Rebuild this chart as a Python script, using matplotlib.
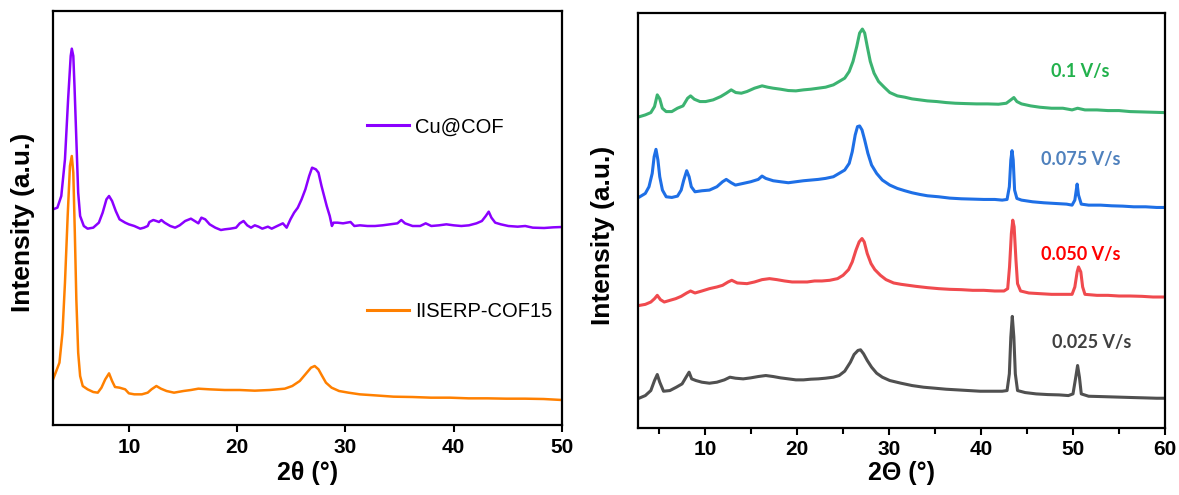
import matplotlib
matplotlib.use("Agg")
import matplotlib.pyplot as plt
from matplotlib.lines import Line2D

plt.rcParams['font.family'] = ['Liberation Sans', 'DejaVu Sans']

# ---------------- Left panel data (2theta, intensity a.u.) ----------------
cu_x = [3.0, 3.4, 3.76, 4.1, 4.39, 4.63, 4.73, 4.87, 4.98, 5.15, 5.32, 5.5, 5.84, 6.19, 6.71,
        7.23, 7.58, 7.93, 8.17, 8.45, 8.79, 9.14, 9.66, 10.0, 10.5, 11.05, 11.4, 11.74, 11.9,
        12.26, 12.54, 12.78, 13.0, 13.3, 13.82, 14.27, 14.69, 15.2, 15.73, 16.08, 16.42, 16.7,
        17.05, 17.46, 17.98, 18.5, 18.85, 19.37, 19.9, 20.24, 20.59, 20.93, 21.28, 21.63, 21.97,
        22.32, 22.84, 23.19, 23.7, 24.22, 24.57, 24.92, 25.26, 25.6, 25.95, 26.3, 26.65, 26.92,
        27.27, 27.51, 27.79, 28.03, 28.27, 28.55, 28.75, 28.9, 29.26, 29.78, 30.47, 30.82, 31.34,
        32.03, 32.73, 33.42, 34.11, 34.8, 35.16, 35.5, 36.2, 36.9, 37.41, 37.93, 38.63, 39.32,
        40.0, 40.7, 41.4, 42.1, 42.6, 42.96, 43.23, 43.48, 43.83, 44.35, 45.04, 45.9, 46.6,
        47.3, 48.34, 49.2, 50.0]
cu_y = [647, 652, 687, 797, 977, 1107, 1129, 1107, 1017, 857, 697, 627, 597, 589, 592,
        607, 637, 677, 687, 672, 642, 617, 607, 602, 597, 589, 592, 597, 609,
        615, 612, 609, 615, 607, 597, 592, 599, 612, 619, 612, 605, 622,
        617, 602, 592, 585, 587, 589, 592, 605, 612, 599, 592, 599, 595,
        589, 595, 589, 597, 605, 592, 617, 637, 652, 677, 707, 747, 772,
        767, 757, 717, 687, 657, 627, 597, 607, 607, 605, 609, 597, 599,
        597, 597, 599, 602, 605, 615, 605, 597, 597, 605, 597, 599, 602,
        599, 597, 599, 605, 612, 627, 640, 622, 607, 602, 597, 595, 597,
        592, 591, 593, 594]

cof_x = [3.0, 3.24, 3.59, 3.87, 4.1, 4.35, 4.56, 4.73, 4.87, 5.01, 5.15, 5.32, 5.5, 5.74,
         6.19, 6.71, 7.13, 7.47, 7.82, 8.17, 8.45, 8.72, 9.14, 9.66, 10.0, 10.5, 11.2, 11.74,
         12.09, 12.54, 12.96, 13.48, 14.17, 15.04, 15.73, 16.42, 17.46, 18.85, 20.24, 21.63,
         23.01, 24.4, 25.09, 25.78, 26.3, 26.82, 27.16, 27.51, 27.85, 28.2, 28.72, 29.41,
         30.28, 31.32, 32.7, 34.44, 36.17, 37.9, 39.64, 41.37, 43.1, 44.84, 46.57, 48.3, 50.0]
cof_y = [137, 157, 187, 277, 427, 627, 777, 807, 757, 577, 377, 217, 147, 117,
         107, 99, 97, 112, 137, 155, 132, 114, 112, 107, 95, 92, 92, 97,
         107, 117, 109, 102, 97, 102, 105, 109, 107, 105, 105, 103,
         105, 109, 117, 132, 152, 172, 177, 167, 147, 127, 112, 102,
         97, 92, 89, 85, 84, 82, 82, 80, 80, 79, 79, 78, 75]

left_labels = ["Cu@COF", "IISERP-COF15"]
left_colors = ["#8B00FF", "#FF8000"]

# ---------------- Right panel data ----------------
g_x = [2.9, 3.5, 4.1, 4.5, 4.8, 5.07, 5.35, 5.76, 6.38, 6.99, 7.6, 8.1, 8.42, 8.83, 9.44, 10.06,
       10.87, 11.7, 12.3, 12.84, 13.33, 13.94, 14.55, 15.37, 16.2, 16.8, 17.4, 18.2, 19.05, 19.87,
       20.7, 21.5, 22.3, 23.1, 23.95, 24.57, 25.18, 25.67, 26.08, 26.49, 26.8, 27.1, 27.35, 27.63,
       27.96, 28.37, 28.86, 29.47, 30.08, 30.9, 31.72, 32.5, 33.35, 34.17, 35.2, 36.2, 37.2, 38.26,
       39.5, 40.7, 41.9, 42.75, 43.24, 43.57, 43.9, 44.4, 45.4, 46.4, 47.66, 48.9, 49.9, 50.5,
       51.3, 52.6, 53.8, 55.0, 56.2, 57.5, 58.7, 59.9]
g_y = [932, 937, 944, 962, 997, 985, 957, 947, 947, 957, 964, 987, 994, 984, 977, 977,
       982, 992, 1002, 1012, 1004, 1002, 1007, 1017, 1024, 1020, 1017, 1014, 1010, 1009,
       1012, 1014, 1017, 1020, 1027, 1037, 1047, 1067, 1097, 1142, 1182, 1194, 1182, 1142,
       1097, 1062, 1037, 1020, 1004, 994, 990, 985, 982, 979, 977, 974, 972, 971,
       970, 970, 969, 972, 982, 989, 977, 970, 964, 960, 957, 957, 952, 957,
       952, 952, 950, 950, 947, 946, 945, 944]

b_x = [2.9, 3.5, 3.9, 4.25, 4.46, 4.66, 4.87, 5.07, 5.36, 5.77, 6.38, 7.0, 7.4, 7.68, 8.0, 8.26,
       8.5, 8.9, 9.65, 10.47, 11.28, 11.9, 12.3, 12.84, 13.3, 14.14, 14.96, 15.78, 16.19, 16.6,
       17.4, 18.2, 19.05, 19.87, 20.7, 21.5, 22.3, 23.1, 23.95, 24.57, 25.18, 25.67, 26.0, 26.32,
       26.57, 26.8, 27.06, 27.35, 27.7, 28.1, 28.65, 29.27, 30.08, 30.9, 31.72, 32.5, 33.35,
       34.17, 35.4, 36.6, 37.85, 39.1, 40.3, 41.5, 42.3, 42.83, 43.08, 43.24, 43.37, 43.5,
       43.65, 43.9, 44.4, 45.6, 46.84, 48.06, 49.3, 49.9, 50.2, 50.45, 50.6, 50.9, 51.7, 53.0,
       54.2, 55.4, 56.6, 57.9, 59.1, 59.9]
b_y = [692, 702, 722, 762, 812, 834, 802, 752, 712, 692, 690, 694, 712, 742, 770, 752,
       722, 707, 710, 712, 722, 737, 744, 734, 727, 732, 737, 744, 754, 747,
       740, 737, 734, 737, 740, 742, 744, 747, 752, 762, 772, 792, 827, 877,
       902, 904, 892, 862, 822, 787, 762, 742, 727, 717, 710, 704, 699,
       695, 692, 688, 686, 685, 684, 684, 682, 684, 722, 802, 830, 802,
       712, 687, 682, 677, 674, 672, 670, 667, 682, 730, 697, 670, 667, 667,
       665, 664, 662, 662, 660, 660]

r_x = [2.9, 3.5, 4.1, 4.5, 4.8, 5.15, 5.56, 6.17, 6.8, 7.4, 8.0, 8.42, 8.9, 9.65, 10.47, 11.28,
       11.9, 12.5, 12.9, 13.5, 14.55, 15.37, 16.19, 17.0, 17.8, 18.64, 19.46, 20.3, 21.1, 21.9,
       22.7, 23.55, 24.4, 25.0, 25.6, 26.0, 26.4, 26.75, 27.06, 27.3, 27.63, 28.04, 28.45, 29.06,
       29.67, 30.5, 31.3, 32.1, 32.9, 34.17, 35.4, 36.6, 37.85, 39.1, 40.3, 41.5, 42.5, 42.9,
       43.1, 43.3, 43.45, 43.6, 43.8, 43.97, 44.3, 45.2, 46.4, 47.66, 48.9, 49.9, 50.2, 50.45,
       50.6, 50.85, 51.05, 51.3, 52.6, 53.8, 55.0, 56.2, 57.5, 58.7, 59.9]
r_y = [367, 370, 377, 387, 397, 384, 377, 382, 387, 394, 404, 410, 404, 410, 417, 422,
       427, 437, 442, 434, 432, 437, 444, 447, 444, 440, 437, 437, 437, 440,
       440, 442, 447, 457, 474, 497, 532, 557, 567, 557, 522, 492, 474, 457,
       444, 434, 430, 427, 424, 420, 417, 415, 414, 412, 412, 410, 410, 417,
       482, 582, 622, 602, 502, 432, 410, 404, 402, 400, 400, 400, 422, 467,
       482, 467, 422, 400, 397, 397, 395, 395, 394, 392, 392]

k_x = [2.9, 3.5, 4.1, 4.5, 4.8, 5.07, 5.48, 6.17, 6.87, 7.5, 7.93, 8.26, 8.54, 9.0, 9.65, 10.47,
       11.28, 12.1, 12.7, 13.3, 14.14, 14.96, 15.78, 16.6, 17.4, 18.2, 19.05, 19.87, 20.7, 21.5,
       22.3, 23.1, 23.95, 24.57, 25.18, 25.8, 26.2, 26.62, 26.9, 27.23, 27.63, 28.1, 28.65, 29.27,
       30.08, 31.3, 32.5, 33.76, 35.0, 36.2, 37.44, 38.66, 39.9, 41.1, 42.3, 42.83, 43.08, 43.24,
       43.4, 43.57, 43.73, 43.97, 44.8, 46.0, 47.25, 48.5, 49.5, 50.0, 50.3, 50.5, 50.7, 50.9,
       51.7, 53.0, 54.2, 55.4, 56.6, 57.9, 59.1, 59.9]
k_y = [90, 97, 112, 142, 160, 137, 110, 112, 122, 132, 152, 167, 147, 142, 137, 134,
       137, 144, 152, 149, 147, 150, 154, 157, 154, 150, 147, 144, 144, 146,
       147, 149, 152, 157, 170, 197, 220, 232, 234, 222, 202, 182, 164, 152,
       142, 134, 127, 122, 119, 116, 114, 112, 110, 110, 110, 112, 162, 272,
       334, 272, 162, 112, 106, 102, 100, 99, 97, 102, 152, 187, 152, 102,
       95, 94, 93, 92, 91, 90, 89, 89]

right_labels = ["0.1 V/s", "0.075 V/s", "0.050 V/s", "0.025 V/s"]
right_line_colors = ["#3CB371", "#1E6FE6", "#F04A4E", "#505050"]
right_text_colors = ["#22B14C", "#4F81BD", "#FF0000", "#404040"]

# ---------------- Figure ----------------
fig = plt.figure(figsize=(11.79, 4.95), dpi=100)
axL = fig.add_axes([0.045, 0.1414, 0.4317, 0.8364])
axR = fig.add_axes([0.5411, 0.1354, 0.4470, 0.8383])

TICK_FS = 15
for ax in (axL, axR):
    for s in ax.spines.values():
        s.set_linewidth(1.6)
        s.set_color('black')
    ax.set_yticks([])
    ax.tick_params(axis='x', which='major', direction='out', length=5, width=1.5,
                   labelsize=TICK_FS, pad=4)

# Left
axL.plot(cu_x, cu_y, color=left_colors[0], lw=1.8)
axL.plot(cof_x, cof_y, color=left_colors[1], lw=1.8)
axL.set_xlim(3, 50)
axL.set_ylim(0, 1242)
axL.set_xticks([10, 20, 30, 40, 50])
axL.set_xticklabels(['10', '20', '30', '40', '50'], fontweight='bold', fontsize=TICK_FS)
axL.set_xlabel('2θ (°)', fontsize=18, fontweight='bold', labelpad=3)
axL.set_ylabel('Intensity (a.u.)', fontsize=19, fontweight='bold')
axL.yaxis.set_label_coords(-0.035, 0.49)

leg1 = axL.legend([Line2D([], [], color=left_colors[0], lw=2.2)], [left_labels[0]],
                  loc='center left', bbox_to_anchor=(0.617, 0.72), frameon=False,
                  borderpad=0, borderaxespad=0, handlelength=2.1, handletextpad=0.3,
                  prop={'size': 14.5})
axL.add_artist(leg1)
axL.legend([Line2D([], [], color=left_colors[1], lw=2.2)], [left_labels[1]],
           loc='center left', bbox_to_anchor=(0.617, 0.275), frameon=False,
           borderpad=0, borderaxespad=0, handlelength=2.1, handletextpad=0.3,
           prop={'size': 14.5})

# Right
for xs, ys, c in zip([g_x, b_x, r_x, k_x], [g_y, b_y, r_y, k_y], right_line_colors):
    axR.plot(xs, ys, color=c, lw=2.2)
axR.set_xlim(2.7, 60)
axR.set_ylim(0, 1242)
axR.set_xticks([10, 20, 30, 40, 50, 60])
axR.set_xticks([5, 15, 25, 35, 45, 55], minor=True)
axR.tick_params(axis='x', which='minor', direction='out', length=4, width=1.5)
axR.set_xticklabels(['10', '20', '30', '40', '50', '60'], fontweight='bold', fontsize=TICK_FS)
axR.set_xlabel('2Θ (°)', fontsize=18, fontweight='bold', labelpad=1)
axR.set_ylabel('Intensity (a.u.)', fontsize=19, fontweight='bold')
axR.yaxis.set_label_coords(-0.044, 0.465)

label_pos = [(0.84, 0.86), (0.84, 0.647), (0.84, 0.418), (0.86, 0.206)]
for (lx, ly), t, c in zip(label_pos, right_labels, right_text_colors):
    axR.text(lx, ly, t, transform=axR.transAxes, color=c, fontsize=13,
             fontweight='bold', family=['Lato', 'DejaVu Sans'], ha='center', va='center')

fig.savefig('out.png', dpi=100)
